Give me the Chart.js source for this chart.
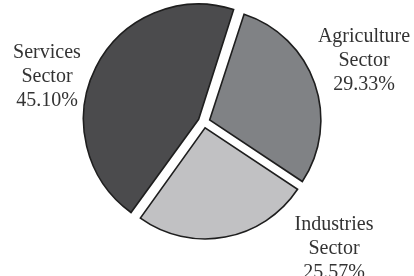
<!DOCTYPE html>
<html>
<head>
<meta charset="utf-8">
<script src="https://cdn.jsdelivr.net/npm/chart.js@4/dist/chart.umd.min.js"></script>
<style>
  html, body { margin: 0; padding: 0; background: #ffffff; }
  #wrap { width: 414px; height: 276px; position: relative; }
</style>
</head>
<body>
<div id="wrap"><canvas id="c" width="414" height="276"></canvas></div>
<script>
const categories = ["Agriculture Sector", "Industries Sector", "Services Sector"];
const shares = [29.33, 25.57, 45.10];
const valueLabels = ["29.33%", "25.57%", "45.10%"];
const labelLines = [["Agriculture", "Sector"], ["Industries", "Sector"], ["Services", "Sector"]];
const sliceColors = ["#808285", "#c1c1c3", "#4b4b4d"];

// text anchor positions (label layout only)
const labelAnchors = [
  { x: 364, y: 37 },
  { x: 334, y: 225 },
  { x: 47, y: 53 }
];

const outsideLabels = {
  id: 'outsideLabels',
  afterDatasetsDraw(chart) {
    const ctx = chart.ctx;
    ctx.save();
    ctx.font = '20px "Liberation Serif", "Times New Roman", serif';
    ctx.fillStyle = '#333333';
    ctx.textAlign = 'center';
    ctx.textBaseline = 'middle';
    const lh = 24;
    categories.forEach((c, i) => {
      const lines = labelLines[i].concat([valueLabels[i]]);
      const a = labelAnchors[i];
      lines.forEach((t, j) => ctx.fillText(t, a.x, a.y + j * lh));
    });
    ctx.restore();
  }
};

new Chart(document.getElementById('c'), {
  type: 'pie',
  data: {
    labels: categories,
    datasets: [{
      data: shares,
      backgroundColor: sliceColors,
      borderColor: '#1e1e1e',
      borderWidth: 1.6,
      borderJoinStyle: 'miter',
      offset: 24,
      hoverOffset: 0
    }]
  },
  options: {
    responsive: false,
    animation: false,
    rotation: 18,
    radius: 111,
    layout: { padding: { left: 0, right: 6, top: 0, bottom: 32 } },
    plugins: {
      legend: { display: false },
      tooltip: { enabled: false }
    }
  },
  plugins: [outsideLabels]
});
</script>
</body>
</html>
